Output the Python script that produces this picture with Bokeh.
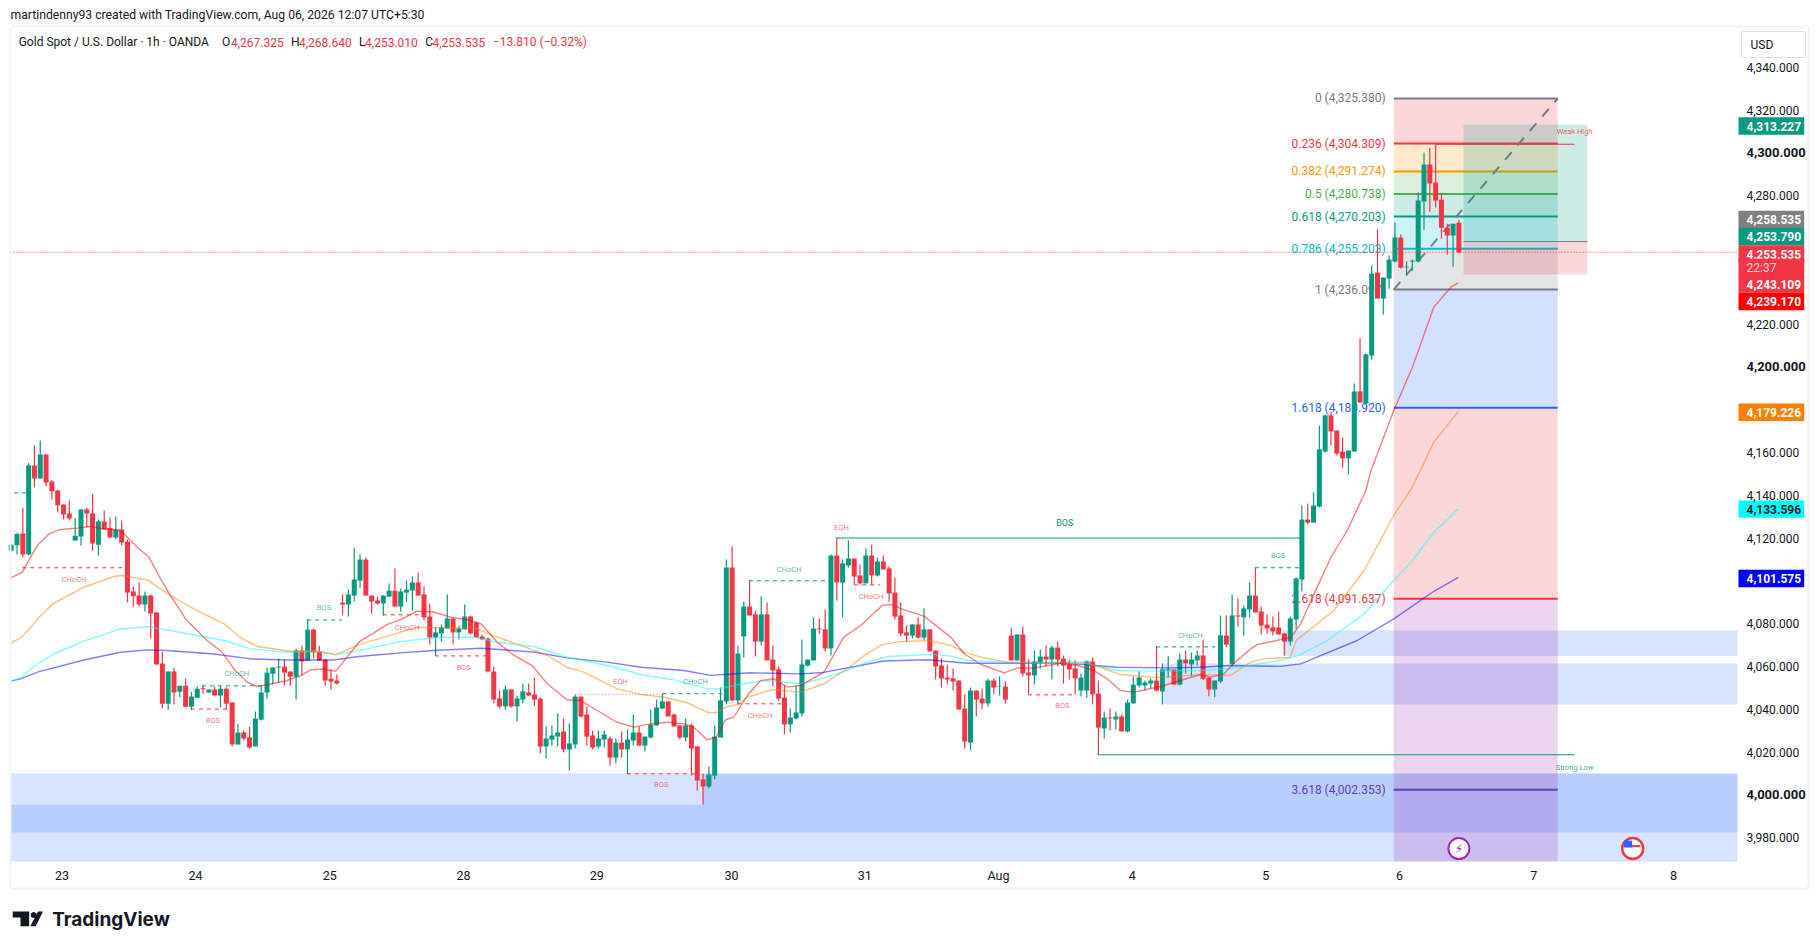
from bokeh.plotting import figure
from bokeh.embed import file_html
from bokeh.resources import INLINE
from bokeh.models import FixedTicker, NumeralTickFormatter, Range1d
from bokeh.core.properties import value
import numpy as np

FONT = "Roboto"
GREEN = "#089981"
RED = "#f23645"

opens = [
4114.1,4116.6,4122.1,4112.3,4153.9,4147.8,4159.0,4146.4,4142.2,4135.6,
4131.4,4118.8,4120.7,4133.3,4131.4,4116.9,4127.7,4124.7,4120.2,4124.0,
4118.3,4095.0,4093.1,4088.9,4093.1,4085.2,4061.3,4042.6,4057.6,4048.2,
4051.0,4041.2,4045.4,4049.8,4047.8,4049.2,4046.4,4049.6,4043.1,4023.5,
4029.1,4026.8,4022.6,4035.1,4047.8,4056.6,4059.5,4059.9,4057.6,4055.2,
4067.4,4062.7,4077.2,4066.9,4063.2,4054.3,4053.4,4089.8,4088.9,4093.1,
4100.1,4109.9,4093.1,4090.8,4089.4,4092.6,4095.4,4088.0,4094.5,4095.5,
4099.2,4093.6,4083.3,4073.5,4075.4,4077.7,4082.4,4075.9,4077.3,4083.3,
4080.5,4074.0,4073.0,4057.6,4045.0,4041.3,4049.2,4041.3,4044.5,4047.8,
4046.9,4045.0,4022.6,4025.8,4027.2,4029.6,4021.2,4023.5,4045.9,4037.5,
4027.7,4022.6,4025.8,4026.3,4017.4,4024.4,4021.2,4025.4,4029.1,4023.0,
4026.8,4032.4,4040.3,4043.6,4037.5,4032.4,4026.8,4032.4,4022.6,4007.2,
4003.9,4009.0,4026.8,4043.6,4106.2,4044.1,4074.0,4088.0,4084.3,4071.6,
4084.3,4063.2,4058.6,4045.5,4032.9,4035.7,4038.0,4060.4,4062.8,4077.7,
4077.3,4068.4,4111.8,4099.2,4107.2,4110.4,4102.5,4098.8,4111.8,4102.5,
4109.0,4105.8,4094.5,4083.8,4075.9,4074.4,4079.6,4073.5,4077.3,4067.4,
4060.4,4054.8,4054.4,4053.4,4040.3,4024.4,4048.7,4045.0,4042.7,4053.4,
4050.4,4050.6,4074.4,4062.8,4074.9,4057.2,4055.8,4061.8,4064.6,4063.2,
4068.8,4063.7,4060.9,4059.0,4048.7,4048.7,4062.3,4047.3,4031.0,4036.1,
4035.2,4036.6,4029.6,4042.7,4051.1,4051.1,4052.0,4053.4,4048.3,4058.1,
4058.6,4051.5,4063.2,4060.9,4062.8,4065.1,4054.8,4049.2,4053.0,4074.4,
4061.2,4083.8,4082.9,4086.6,4093.1,4085.7,4079.6,4078.2,4078.2,4075.4,
4071.6,4081.9,4100.6,4128.6,4127.2,4134.7,4160.4,4177.3,4170.2,4160.4,
4157.2,4160.4,4188.5,4182.9,4205.2,4244.0,4231.9,4241.2,4249.2,4260.4,
4246.5,4249.2,4249.2,4277.2,4294.5,4286.1,4278.1,4265.0,4261.3,4267.325]

highs = [
4116.9,4122.4,4134.1,4155.1,4163.2,4165.6,4159.0,4147.2,4142.6,4135.6,
4137.5,4129.4,4133.6,4134.1,4140.6,4128.6,4132.8,4129.7,4130.0,4128.2,
4119.3,4097.3,4099.2,4095.0,4093.6,4085.4,4066.9,4057.6,4059.5,4051.0,
4054.3,4048.2,4050.7,4051.0,4049.2,4050.6,4050.7,4050.3,4043.1,4033.1,
4030.0,4031.9,4038.9,4050.6,4059.5,4059.5,4063.7,4063.2,4057.6,4068.2,
4069.7,4081.9,4077.7,4069.7,4063.5,4058.8,4056.2,4093.6,4095.9,4115.5,
4112.3,4110.9,4093.1,4092.6,4093.1,4098.7,4105.7,4096.4,4100.2,4102.0,
4103.9,4097.4,4089.4,4078.7,4079.6,4093.6,4082.4,4079.1,4088.9,4083.8,
4081.0,4074.9,4073.4,4060.0,4048.7,4051.1,4049.2,4046.4,4052.0,4052.0,
4054.8,4045.5,4031.9,4032.4,4038.0,4035.7,4033.3,4046.9,4045.9,4041.3,
4030.0,4030.0,4030.0,4027.2,4026.3,4029.6,4030.5,4037.5,4031.9,4027.2,
4039.9,4044.5,4047.3,4043.6,4038.0,4032.4,4035.7,4033.3,4022.6,4009.8,
4013.2,4032.4,4050.1,4110.0,4116.0,4069.8,4090.3,4100.2,4086.1,4092.7,
4089.9,4069.8,4060.0,4051.1,4040.3,4051.1,4072.6,4063.2,4082.9,4082.4,
4086.6,4112.3,4120.1,4110.0,4118.9,4110.4,4107.6,4115.1,4117.0,4110.9,
4111.8,4106.7,4101.6,4089.9,4079.1,4079.6,4082.9,4087.1,4077.3,4067.4,
4063.7,4060.9,4059.0,4053.4,4046.9,4050.1,4048.7,4049.7,4054.4,4054.4,
4055.3,4052.9,4078.2,4074.9,4078.7,4063.2,4067.4,4067.9,4069.8,4069.8,
4071.6,4065.1,4063.2,4062.8,4056.7,4062.8,4064.2,4053.4,4038.9,4040.3,
4038.9,4037.5,4044.5,4055.3,4057.6,4053.4,4054.4,4069.2,4061.4,4064.6,
4058.6,4066.0,4067.4,4066.5,4067.4,4072.6,4054.8,4053.4,4083.8,4083.8,
4093.6,4091.7,4088.5,4099.2,4106.1,4088.0,4084.3,4083.3,4085.7,4075.4,
4083.3,4101.7,4135.2,4136.1,4141.3,4172.6,4177.7,4179.1,4170.2,4167.0,
4160.9,4192.2,4213.2,4206.2,4247.3,4264.4,4241.7,4252.0,4267.4,4261.8,
4249.2,4250.1,4281.4,4300.1,4302.4,4303.8,4280.5,4266.9,4266.9,4268.64]

lows = [
4114.1,4112.3,4111.0,4112.3,4143.7,4147.8,4144.1,4138.0,4131.9,4128.6,
4128.3,4118.8,4116.5,4125.0,4114.1,4111.8,4124.0,4119.9,4119.4,4116.5,
4090.0,4088.0,4088.0,4085.6,4073.0,4060.9,4040.3,4039.8,4042.2,4045.6,
4041.2,4039.8,4045.4,4047.1,4047.8,4046.4,4040.8,4039.8,4022.6,4023.5,
4025.4,4021.6,4022.6,4034.7,4045.0,4051.5,4052.4,4051.0,4051.0,4044.5,
4055.7,4062.7,4063.7,4062.7,4051.0,4049.2,4051.5,4083.8,4083.3,4090.3,
4096.8,4093.1,4084.7,4088.9,4083.8,4092.6,4088.0,4085.6,4090.3,4086.1,
4093.1,4081.6,4070.2,4064.9,4071.6,4077.7,4070.2,4072.6,4077.3,4074.9,
4073.5,4072.6,4057.2,4042.7,4040.3,4039.9,4040.8,4034.3,4042.7,4046.4,
4041.3,4019.3,4017.0,4023.0,4022.6,4019.8,4011.3,4021.6,4036.1,4023.0,
4021.2,4021.6,4022.1,4013.7,4014.6,4017.4,4009.5,4023.0,4023.0,4020.2,
4026.3,4032.4,4040.3,4036.6,4031.9,4025.8,4024.9,4009.0,4002.0,3995.5,
4002.9,4007.2,4026.8,4042.2,4044.1,4042.2,4064.2,4083.8,4064.6,4069.8,
4062.8,4050.6,4044.1,4028.2,4029.1,4035.2,4036.6,4060.0,4062.8,4075.4,
4067.0,4065.1,4090.8,4082.9,4106.2,4098.1,4098.3,4098.8,4098.3,4102.0,
4105.3,4090.3,4081.9,4074.0,4071.6,4073.0,4073.0,4072.6,4067.0,4053.9,
4050.1,4051.5,4048.7,4039.9,4021.6,4020.7,4036.6,4039.9,4041.3,4046.9,
4046.4,4042.7,4062.8,4062.8,4055.3,4046.9,4051.5,4059.0,4060.0,4053.9,
4060.0,4052.0,4053.9,4046.9,4045.9,4045.5,4042.2,4018.5,4026.3,4030.0,
4030.5,4029.6,4029.1,4042.7,4050.1,4048.7,4049.7,4048.3,4042.2,4054.8,
4051.5,4051.1,4056.7,4055.3,4060.4,4053.7,4046.0,4045.6,4052.2,4069.0,
4060.0,4078.7,4074.4,4082.9,4085.2,4074.9,4075.4,4074.4,4074.9,4065.1,
4069.8,4077.2,4095.0,4126.3,4127.2,4134.3,4160.0,4163.2,4158.6,4152.9,
4149.7,4160.4,4183.3,4182.9,4203.3,4231.9,4224.4,4236.5,4248.7,4245.9,
4242.6,4244.9,4248.7,4264.1,4272.5,4274.4,4259.9,4252.4,4246.8,4253.01]

closes = [
4116.9,4121.9,4112.3,4153.9,4147.8,4159.0,4145.9,4141.9,4135.3,4131.0,
4129.1,4121.1,4133.3,4131.4,4117.4,4127.7,4124.0,4120.2,4124.0,4117.9,
4094.5,4092.8,4088.9,4093.1,4084.7,4060.9,4042.6,4057.6,4047.8,4051.0,
4041.2,4045.9,4049.6,4049.3,4049.2,4046.4,4049.6,4042.6,4023.5,4029.1,
4026.3,4022.1,4035.6,4047.8,4057.1,4059.5,4059.9,4057.1,4055.2,4067.4,
4062.3,4077.2,4066.5,4062.7,4053.4,4052.9,4052.0,4088.9,4093.6,4100.6,
4109.9,4093.1,4090.3,4089.4,4093.1,4095.4,4088.0,4095.0,4095.9,4099.2,
4093.1,4082.9,4073.5,4075.9,4078.2,4082.4,4075.9,4077.7,4083.3,4075.4,
4073.5,4072.6,4057.6,4044.5,4041.3,4049.2,4041.3,4045.0,4048.3,4046.4,
4044.5,4022.6,4026.3,4027.7,4029.1,4021.2,4024.0,4045.9,4036.6,4027.2,
4022.1,4026.3,4028.2,4017.4,4024.4,4021.2,4025.8,4029.1,4023.0,4027.2,
4032.9,4040.8,4043.6,4036.6,4031.9,4026.8,4032.4,4021.6,4006.7,4003.9,
4009.5,4027.2,4044.1,4106.2,4044.1,4066.0,4088.0,4083.8,4071.6,4084.3,
4062.8,4058.1,4045.0,4032.9,4036.1,4038.5,4060.9,4063.2,4077.7,4077.3,
4068.4,4111.8,4099.2,4108.1,4110.4,4102.0,4098.8,4111.8,4102.5,4109.0,
4105.3,4094.1,4083.3,4075.4,4074.4,4079.6,4073.5,4077.3,4067.0,4060.0,
4054.4,4053.9,4052.9,4039.9,4024.9,4048.7,4044.5,4042.7,4053.4,4050.1,
4050.6,4044.5,4062.8,4074.9,4056.7,4055.8,4062.3,4064.6,4063.2,4068.8,
4063.2,4060.4,4058.6,4054.4,4054.8,4062.3,4046.9,4031.4,4036.1,4035.7,
4036.6,4029.6,4043.1,4051.5,4054.8,4052.5,4053.4,4048.7,4058.6,4058.6,
4051.5,4063.2,4061.4,4063.2,4065.1,4054.2,4049.2,4053.4,4074.5,4070.2,
4083.8,4083.3,4087.1,4093.1,4085.2,4079.1,4077.7,4076.3,4074.9,4071.6,
4082.4,4101.1,4128.6,4127.2,4135.2,4161.4,4177.3,4169.8,4159.5,4157.2,
4160.9,4188.5,4183.3,4205.8,4243.5,4231.9,4241.7,4250.1,4260.4,4246.3,
4246.8,4249.6,4277.7,4294.5,4285.6,4277.7,4265.0,4261.3,4266.9,4253.535]

red_ma_x = [-0.1,1.9,3.0,4.6,6.5,8.5,11.4,13.6,15.9,18.8,21.7,23.7,25.7,27.4,30.0,33.7,36.3,38.3,40.6,42.3,44.6,47.5,49.8,51.5,53.8,55.8,59.8,64.7,67.0,
69.8,72.7,75.6,78.4,80.8,83.6,86.5,89.6,92.2,95.6,97.9,100.8,104.2,107.1,109.4,112.8,115.7,117.4,119.7,121.2,122.9,124.3,126.6,128.9,131.2,133.5,
135.8,139.8,143.2,146.1,149.8,151.3,153.6,157.0,161.6,163.9,166.8,170.8,173.1,175.9,180.5,183.4,186.2,188.5,190.8,193.1,197.7,201.1,204.6,
206.3,208.6,210.2,213.2,214.3,217.7,220.1,221.8,224.1,227.0,229.8,233.0,233.8,237.8,241.0,244.7,247.6,248.9]
red_ma = [4101.4,4103.9,4109.5,4116.9,4121.9,4124.0,4124.6,4125.4,4124.3,4123.5,4115.7,4111.0,4100.9,4093.1,4082.2,4072.1,4066.6,4058.8,4052.6,4050.6,4051.8,4053.4,4055.7,4058.4,4058.8,4057.7,4071.3,4079.6,4081.9,
4085.8,4085.4,4083.0,4081.8,4079.9,4071.3,4065.1,4060.4,4051.9,4044.4,4044.1,4039.4,4033.9,4031.6,4032.9,4033.9,4033.2,4031.6,4025.7,4026.9,4035.2,4036.3,4046.4,4053.4,4054.2,4050.3,
4051.1,4057.3,4073.7,4079.1,4088.5,4088.9,4086.4,4083.5,4073.7,4065.9,4060.9,4057.0,4059.3,4059.2,4061.5,4060.4,4058.1,4054.2,4048.7,4048.0,4050.6,4053.4,4056.2,
4055.0,4056.5,4061.2,4068.2,4070.2,4072.1,4073.6,4079.9,4093.9,4111.0,4123.5,4142.2,4150.8,4179.6,4199.8,4227.9,4237.2,4239.17]

orange_ma_x = [-0.1,1.9,3.9,4.8,7.3,12.5,17.7,19.1,23.4,27.4,31.4,36.6,39.4,42.3,48.1,52.6,55.8,59.8,67.0,
69.8,73.9,79.6,83.6,89.3,92.2,95.6,98.5,104.2,108.3,112.3,116.3,119.7,121.2,122.9,124.9,126.6,130.9,135.8,
139.8,143.8,146.7,149.8,153.0,157.9,161.6,163.9,166.8,171.3,175.9,184.5,187.4,190.8,196.0,198.9,204.6,209.7,213.2,215.4,220.0,
221.0,227.5,232.7,237.8,241.0,244.7,248.9]
orange_ma = [4070.8,4073.9,4079.9,4083.0,4089.5,4097.0,4102.0,4102.5,4100.4,4093.1,4086.9,4079.9,4073.6,4069.3,4067.1,4067.1,4065.5,4070.2,4076.0,
4078.3,4078.0,4078.0,4073.7,4068.2,4065.1,4059.6,4057.3,4049.5,4046.9,4045.6,4043.0,4038.6,4038.3,4041.0,4042.2,4045.6,4049.1,4048.0,
4051.9,4058.9,4065.1,4070.2,4071.6,4072.1,4069.8,4066.7,4064.3,4062.0,4062.0,4062.0,4059.6,4056.2,4055.0,4055.0,4056.2,4055.8,4062.0,4063.5,4064.3,
4072.1,4086.1,4104.8,4130.5,4143.8,4164.8,4179.226]

cyan_ma_x = [-0.1,1.6,4.5,7.3,12.5,18.8,23.4,28.0,36.6,41.2,47.5,52.6,55.8,59.8,67.0,
72.7,79.6,83.6,89.9,95.6,102.5,108.3,114.0,119.7,121.5,126.6,130.0,
135.8,139.2,143.8,147.2,150.7,158.7,161.6,164.5,171.3,175.9,184.5,190.2,196.0,204.6,209.7,218.3,221.4,
226.4,232.7,237.8,241.0,244.7,248.9]
cyan_ma = [4053.1,4054.6,4061.2,4065.8,4071.8,4077.5,4078.6,4076.4,4072.1,4068.2,4066.6,4067.1,4065.5,4067.4,4071.6,
4073.4,4073.7,4071.3,4069.3,4064.3,4060.4,4056.2,4053.7,4049.5,4049.5,4052.2,4053.4,
4051.9,4054.2,4058.1,4062.0,4064.6,4065.6,4064.8,4062.8,4062.0,4061.5,4061.5,4058.1,4057.8,4058.1,4058.9,4062.8,4065.1,
4072.1,4084.6,4100.1,4109.5,4122.7,4133.596]

blue_ma_x = [-0.1,1.6,4.5,12.5,18.8,23.4,26.8,34.9,41.2,47.5,55.5,59.8,67.0,
72.7,80.8,89.9,95.6,102.5,108.3,115.7,120.3,127.2,
135.8,139.2,144.4,150.1,157.6,164.5,171.3,181.7,190.2,198.9,204.6,209.7,218.3,221.8,
231.5,237.8,244.7,248.9]
blue_ma = [4053.1,4054.2,4057.3,4063.0,4066.6,4067.7,4067.4,4065.8,4063.5,4063.0,4063.0,4064.6,4066.3,
4067.4,4068.5,4066.7,4064.0,4062.0,4059.6,4058.1,4055.8,4057.0,
4056.5,4057.0,4059.6,4062.5,4063.1,4061.5,4061.5,4061.5,4059.6,4059.3,4059.6,4060.4,4060.0,4061.2,
4072.1,4082.2,4095.1,4101.575]

fib_ratio = ["0","0.236","0.382","0.5","0.618","0.786","1","1.618","2.618","3.618"]
fib_price = [4325.380,4304.309,4291.274,4280.738,4270.203,4255.203,4236.097,4180.920,4091.637,4002.353]
fib_color = ["#787b86","#f23645","#ff9800","#4caf50","#089981","#00bcd4","#787b86","#2962ff","#f23645","#673ab7"]

day_pos = [8.74,31.7,54.8,77.8,100.7,123.9,146.8,169.8,192.8,215.8,238.8,261.9,285.9]
day_lab = ["23","24","25","28","29","30","31","Aug","4","5","6","7","8"]
y_ticks = [3980,4020,4040,4060,4080,4120,4140,4160,4220,4280,4320,4340]
y_bold_ticks = [4000,4200,4300]

# px <-> data: one bar is 5.814 px, one USD is 2.14 px
def xd(px): return (px - 10.7) / 5.814
def yd(py): return 4340 - (py - 66.7) / 2.14

W, H = 1819, 949
X_LO, X_HI = xd(0), xd(W)
Y_LO, Y_HI = yd(H), yd(0)
PANE_L, PANE_R = xd(10), xd(1737)   # chart pane
PANE_B = yd(861)

p = figure(width=W, height=H, output_backend="svg", toolbar_location=None,
           x_range=Range1d(X_LO, X_HI), y_range=Range1d(Y_LO, Y_HI),
           x_axis_location="below", y_axis_location="right",
           min_border_left=0, min_border_right=0, min_border_top=0, min_border_bottom=0)
p.outline_line_color = None
p.grid.visible = False
p.background_fill_color = "white"
p.border_fill_color = "white"

for ax in (p.xaxis[0], p.yaxis[0]):
    ax.axis_line_color = None
    ax.major_tick_line_color = None
    ax.minor_tick_line_color = None
    ax.major_label_text_font = FONT
    ax.major_label_text_color = "#131722"
p.xaxis[0].ticker = FixedTicker(ticks=day_pos)
p.xaxis[0].major_label_overrides = {a: b for a, b in zip(day_pos, day_lab)}
p.xaxis[0].major_label_text_font_size = "12.5px"
p.xaxis[0].major_label_standoff = -88
p.yaxis[0].ticker = FixedTicker(ticks=y_ticks)
p.yaxis[0].formatter = NumeralTickFormatter(format="0,0.000")
p.yaxis[0].major_label_text_font_size = "12px"
p.yaxis[0].major_label_standoff = -79

BLUE = "#2f6fff"
# support / resistance zones
p.quad(left=PANE_L, right=PANE_R, top=4009.95, bottom=3982.4, fill_color=BLUE, fill_alpha=0.19, line_color=None)
p.quad(left=PANE_L, right=118.9, top=3995.4, bottom=PANE_B, fill_color=BLUE, fill_alpha=0.19, line_color=None)
p.quad(left=118.9, right=PANE_R, top=4009.95, bottom=PANE_B, fill_color=BLUE, fill_alpha=0.19, line_color=None)
p.quad(left=218.8, right=PANE_R, top=4076.8, bottom=4064.9, fill_color=BLUE, fill_alpha=0.19, line_color=None)
p.quad(left=198.0, right=PANE_R, top=4061.4, bottom=4042.2, fill_color=BLUE, fill_alpha=0.19, line_color=None)

# Fibonacci bands
FIB_L, FIB_R = 237.8, 266.0
band_tops = fib_price
band_bots = fib_price[1:] + [PANE_B]
band_cols = ["#f23645","#ff9800","#4caf50","#089981","#00bcd4","#787b86","#2962ff","#f23645","#9c27b0","#9c27b0"]
p.quad(left=FIB_L, right=FIB_R, top=band_tops, bottom=band_bots, fill_color=band_cols, fill_alpha=0.2, line_color=None)
p.segment(x0=[FIB_L]*10, x1=[FIB_R]*10, y0=fib_price, y1=fib_price, line_color=fib_color, line_width=2)
fib_text = [f"{r} ({v:,.3f})" for r, v in zip(fib_ratio, fib_price)]
p.text(x=[236.4]*10, y=fib_price, text=fib_text, text_color=fib_color, text_align="right", text_baseline="middle",
       text_font=value(FONT), text_font_size="12px")
p.line(x=[FIB_L, FIB_R], y=[fib_price[6], fib_price[0]], line_color="#787b86", line_width=2, line_dash="10 9")

# long position tool
p.quad(left=249.8, right=271.1, top=4313.227, bottom=4258.535, fill_color=GREEN, fill_alpha=0.2, line_color=None)
p.quad(left=249.8, right=271.1, top=4258.535, bottom=4243.109, fill_color=RED, fill_alpha=0.2, line_color=None)
p.line(x=[249.8, 271.1], y=[4258.535, 4258.535], line_color="#787b86", line_width=1)

# candles
idx = np.arange(len(opens))
o, h, l, c = map(np.array, (opens, highs, lows, closes))
up = c >= o
col = np.where(up, GREEN, RED).tolist()
p.segment(x0=idx, x1=idx, y0=l, y1=h, line_color=col, line_width=1.2)
p.vbar(x=idx, width=0.86, top=np.maximum(o, c), bottom=np.minimum(o, c), fill_color=col, line_color=None)

# moving averages
for xs, ys, colr in ((blue_ma_x, blue_ma, "#0000ff"), (cyan_ma_x, cyan_ma, "#00ffff"),
                     (orange_ma_x, orange_ma, "#ff8000"), (red_ma_x, red_ma, "#ff0000")):
    p.line(xs, ys, line_color=colr, line_alpha=0.5, line_width=1.4)

# last price line
p.line(x=[PANE_L, PANE_R], y=[closes[-1], closes[-1]], line_color=RED, line_width=1, line_dash="1 2")

# market-structure lines
dash_x0 = [0.5, 32.8, 50.9, 126.9, 112.0, 196.9, 213.9]
dash_x1 = [2.5, 43.5, 56.9, 140.7, 122.3, 207.1, 221.8]
dash_y = [4141.1, 4050.9, 4081.7, 4100.0, 4047.2, 4069.1, 4106.1]
p.segment(x0=dash_x0, x1=dash_x1, y0=dash_y, y1=dash_y, line_color=GREEN, line_width=1, line_dash="4 4")
rdash_x0 = [1.9, 30.9, 63.9, 72.9, 105.9, 124.9, 145.0, 174.9]
rdash_x1 = [20.0, 37.4, 70.4, 81.9, 117.9, 132.6, 149.5, 183.0]
rdash_y = [4106.1, 4040.1, 4084.1, 4064.9, 4009.8, 4042.5, 4098.1, 4046.7]
p.segment(x0=rdash_x0, x1=rdash_x1, y0=rdash_y, y1=rdash_y, line_color=RED, line_width=1, line_dash="4 4")
p.segment(x0=[97.0, 141.9], x1=[112.3, 145.0], y0=[4046.9, 4120.0], y1=[4046.9, 4118.0],
          line_color=RED, line_alpha=0.6, line_width=1, line_dash="1 2")
p.segment(x0=[141.9, 186.9], x1=[221.7, 268.9], y0=[4120.0, 4018.7], y1=[4120.0, 4018.7], line_color=GREEN, line_width=1)
p.line(x=[245.0, 268.9], y=[4304.0, 4304.0], line_color=RED, line_width=1)

green_tag_text = ["CHoCH", "BOS", "CHoCH", "CHoCH", "CHoCH", "BOS"]
green_tag_x = [38.8, 53.8, 133.8, 117.7, 202.8, 217.9]
green_tag_y = [4056.8, 4087.3, 4105.5, 4053.1, 4074.6, 4111.7]
red_tag_text = ["CHoCH", "BOS", "CHoCH", "BOS", "EQH", "BOS", "CHoCH", "EQH", "CHoCH", "BOS"]
red_tag_x = [10.8, 34.7, 68.1, 77.8, 104.8, 111.8, 128.8, 142.8, 147.9, 180.8]
red_tag_y = [4100.7, 4034.5, 4078.3, 4059.3, 4053.1, 4004.6, 4036.9, 4124.8, 4092.5, 4041.6]
p.text(x=green_tag_x, y=green_tag_y, text=green_tag_text, text_color=GREEN, text_alpha=0.7, text_align="center",
       text_baseline="middle", text_font=value(FONT), text_font_size="7.5px")
p.text(x=red_tag_x, y=red_tag_y, text=red_tag_text, text_color=RED, text_alpha=0.7, text_align="center",
       text_baseline="middle", text_font=value(FONT), text_font_size="7.5px")
p.text(x=[181.2], y=[4127.0], text=["BOS"], text_color=GREEN, text_align="center", text_baseline="middle",
       text_font=value(FONT), text_font_size="9px")
p.text(x=[268.9], y=[4309.8], text=["Weak High"], text_color=RED, text_alpha=0.8, text_align="center", text_baseline="middle",
       text_font=value(FONT), text_font_size="7.5px")
p.text(x=[268.9], y=[4012.9], text=["Strong Low"], text_color=GREEN, text_alpha=0.8, text_align="center", text_baseline="middle",
       text_font=value(FONT), text_font_size="7.5px")

# event icons on the time scale
p.scatter(x=[249.0], y=[3974.9], size=21, marker="circle", fill_color="white", line_color="#9c27b0", line_width=2)
p.text(x=[249.0], y=[3974.9], text=["\u26a1"], text_color="#9c27b0", text_align="center", text_baseline="middle",
       text_font=value("DejaVu Sans"), text_font_size="12px")
p.scatter(x=[278.9], y=[3974.9], size=21, marker="circle", fill_color="white", line_color=RED, line_width=2.5)
p.rect(x=[278.9], y=[3976.0, 3973.4], width=2.6, height=1.0, fill_color=RED, line_color=None)
p.rect(x=[278.1], y=[3977.0], width=1.4, height=3.2, fill_color="#2962ff", line_color=None)

# page furniture, placed in page pixels
def px_box(x0, y0, x1, y1, fill=None, line=None, width=1):
    if fill:
        p.quad(left=xd(x0), right=xd(x1), top=yd(y0), bottom=yd(y1), fill_color=fill, line_color=None)
    if line:
        p.line(x=[xd(x0), xd(x1), xd(x1), xd(x0), xd(x0)], y=[yd(y0), yd(y0), yd(y1), yd(y1), yd(y0)],
               line_color=line, line_width=width)

def px_text(x, y, text, color="#131722", size="12px", align="left", font=FONT, style="normal"):
    p.text(x=[xd(x)], y=[yd(y)], text=[text], text_color=color, text_font=value(font), text_font_size=size,
           text_align=align, text_baseline="middle", text_font_style=style)

px_box(10, 26, 1808, 888, line="#f0f3fa", width=2)

tags = [
    ("4,313.227", GREEN, 125.5, "white"), ("4,258.535", "#808080", 219, "white"),
    ("4,253.790", GREEN, 236, "white"), ("4,253.535", RED, 253.5, "white"),
    ("22:37", RED, 267, "#ffd0d5"), ("4,243.109", RED, 283.5, "white"),
    ("4,239.170", "#ff0000", 301, "white"), ("4,179.226", "#ff8000", 411.8, "white"),
    ("4,133.596", "#00ffff", 508.6, "#131722"), ("4,101.575", "#0000ff", 578, "white"),
]
for txt, bg, yy, fg in tags:
    px_box(1738, yy - 8.7, 1803.7, yy + 8.7, fill=bg)
    px_text(1746, yy, txt, color=fg, size="12px", style="bold" if txt != "22:37" else "normal")

for tick in y_bold_ticks:
    p.text(x=[xd(1746)], y=[tick], text=[f"{tick:,.3f}"], text_color="#131722", text_font=value(FONT),
           text_font_size="13px", text_font_style="bold", text_align="left", text_baseline="middle")

px_box(1741, 31, 1805, 57, line="#e0e3eb")
px_text(1750, 44, "USD", size="12px")

px_text(10, 14.7, "martindenny93 created with TradingView.com, Aug 06, 2026 12:07 UTC+5:30", size="12.2px")
px_text(18.2, 41.7, "Gold Spot / U.S. Dollar \u00b7 1h \u00b7 OANDA", size="12px")
legend_bits = [(221.4, "O", "#131722"), (230.5, "4,267.325", RED), (290.6, "H", "#131722"), (298.5, "4,268.640", RED),
               (358.6, "L", "#131722"), (364.6, "4,253.010", RED), (424.7, "C", "#131722"), (431.9, "4,253.535", RED),
               (492.3, "\u221213.810 (\u22120.32%)", RED)]
for xx, txt, colr in legend_bits:
    px_text(xx, 41.7, txt, color=colr, size="12px")

# TradingView logo
LOGO = "#131722"
def px_shape(pts):
    p.patch(x=[xd(a) for a, b in pts], y=[yd(b) for a, b in pts], fill_color=LOGO, line_color=None)
px_shape([(12.2, 911), (28.7, 911), (28.7, 925.7), (20.0, 925.7), (20.0, 917), (12.2, 917)])
px_shape([(37.5, 911), (42.5, 911), (35.2, 925.7), (29.8, 925.7)])
th = np.linspace(0, 2 * np.pi, 12, endpoint=False)
px_shape(list(zip(33.2 + 3.0 * np.cos(th), 914.5 + 3.0 * np.sin(th))))
px_text(51.7, 919, "TradingView", size="19px", font="Inter", style="bold", color=LOGO)

open("out.html", "w").write(file_html(p, INLINE))
